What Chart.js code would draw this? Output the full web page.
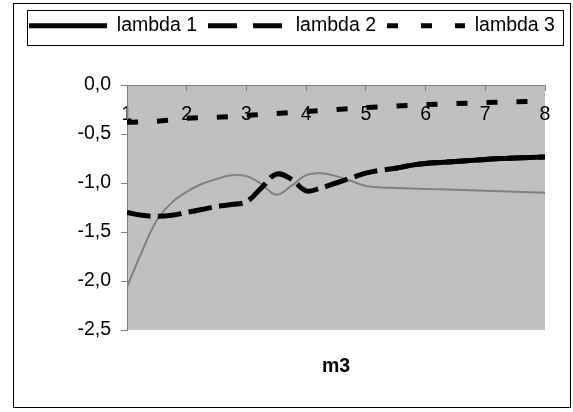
<!DOCTYPE html>
<html>
<head>
<meta charset="utf-8">
<script src="https://cdn.jsdelivr.net/npm/chart.js@4/dist/chart.umd.min.js"></script>
<style>
  html, body { margin: 0; padding: 0; background: #fff; }
  #wrap { width: 573px; height: 412px; }
</style>
</head>
<body>
<div id="wrap"><canvas id="c" width="573" height="412"></canvas></div>
<script>
// ---- data ----
const seriesNames = ['lambda 1', 'lambda 2', 'lambda 3'];
const xAxisTitle = 'm3';
const yTicks = [0, -0.5, -1.0, -1.5, -2.0, -2.5];
const xTicks = [1, 2, 3, 4, 5, 6, 7, 8];

const xQuarter = [1, 1.25, 1.5, 1.75, 2, 2.25, 2.5, 2.75, 3, 3.25, 3.5, 3.75, 4, 4.25, 4.5, 4.75,
                  5, 5.25, 5.5, 5.75, 6, 6.25, 6.5, 6.75, 7, 7.25, 7.5, 7.75, 8];
const grayValues = [-2.06, -1.70, -1.38, -1.20, -1.09, -1.01, -0.96, -0.92, -0.93, -1.01, -1.12, -1.03, -0.92, -0.90, -0.93, -0.98,
                    -1.03, -1.045, -1.05, -1.055, -1.06, -1.065, -1.07, -1.075, -1.08, -1.085, -1.09, -1.095, -1.10];
const lambda2Values = [-1.30, -1.33, -1.34, -1.33, -1.30, -1.27, -1.24, -1.22, -1.19, -1.05, -0.91, -0.96, -1.08, -1.05, -1.00, -0.95,
                       -0.90, -0.87, -0.85, -0.82, -0.80, -0.79, -0.78, -0.77, -0.76, -0.75, -0.745, -0.74, -0.735];
const lambda3X = [1, 1.5, 2, 2.5, 3, 3.5, 4, 4.5, 5, 5.5, 6, 6.5, 7, 7.5, 8];
const lambda3Values = [-0.38, -0.37, -0.34, -0.33, -0.31, -0.29, -0.27, -0.25, -0.23, -0.215, -0.20, -0.19, -0.18, -0.17, -0.165];
const lambda1X = [5.5, 5.75, 6, 6.25, 6.5, 6.75, 7, 7.25, 7.5, 7.75, 8];
const lambda1Values = [-0.85, -0.82, -0.80, -0.79, -0.78, -0.77, -0.76, -0.75, -0.745, -0.74, -0.735];

// ---- styles ----
const FONT = "'Liberation Sans', Arial, sans-serif";
const FS = 19.5;
const plotDash2 = [24, 7];
const plotDash3 = [11, 19];
const legendDashes = [[], [29, 16], [11, 23]];

const pts = (xs, ys) => xs.map((x, i) => ({x: x, y: ys[i]}));

const bgPlugin = {
  id: 'bg',
  beforeUpdate(chart) {
    const lg = chart.legend;
    if (lg && !lg._patched) {
      const orig = lg.fit;
      lg.fit = function () { orig.call(this); this.height = 80; };
      lg._patched = true;
    }
  },
  beforeDraw(chart) {
    const {ctx, chartArea: a} = chart;
    ctx.save();
    ctx.fillStyle = '#ffffff';
    ctx.fillRect(0, 0, chart.width, chart.height);
    ctx.fillStyle = '#C0C0C0';
    ctx.fillRect(a.left, a.top, a.right - a.left, a.bottom - a.top);
    ctx.restore();
  },
  afterDraw(chart) {
    const {ctx} = chart;
    ctx.save();
    ctx.strokeStyle = '#000';
    ctx.lineWidth = 1;
    ctx.setLineDash([]);
    ctx.strokeRect(13.5, 3.5, 557, 404);
    ctx.strokeRect(27.5, 10.5, 536, 35);
    ctx.restore();
  }
};

new Chart(document.getElementById('c'), {
  type: 'line',
  data: {
    datasets: [
      { label: seriesNames[0], data: pts(lambda1X, lambda1Values), borderColor: '#000', borderWidth: 5,
        pointRadius: 0, tension: 0.4, fill: false },
      { label: seriesNames[1], data: pts(xQuarter, lambda2Values), borderColor: '#000', borderWidth: 5,
        borderDash: plotDash2, pointRadius: 0, tension: 0.4, fill: false },
      { label: seriesNames[2], data: pts(lambda3X, lambda3Values), borderColor: '#000', borderWidth: 5,
        borderDash: plotDash3, pointRadius: 0, tension: 0.4, fill: false },
      { label: '', data: pts(xQuarter, grayValues), borderColor: '#808080', borderWidth: 2,
        pointRadius: 0, tension: 0.4, fill: false }
    ]
  },
  options: {
    responsive: false,
    animation: false,
    devicePixelRatio: 1,
    layout: { padding: { left: 13, right: 2, top: 5, bottom: 33.6 } },
    plugins: {
      tooltip: { enabled: false },
      legend: {
        display: true,
        position: 'top',
        labels: {
          usePointStyle: true,
          pointStyleWidth: 78,
          boxHeight: 5,
          padding: 11,
          color: '#000',
          font: { family: FONT, size: FS },
          generateLabels: () => seriesNames.map((name, i) => ({
            text: name, datasetIndex: i, pointStyle: 'line', strokeStyle: '#000', fillStyle: '#000',
            lineWidth: 5, lineDash: legendDashes[i], lineCap: 'butt', hidden: false, fontColor: '#000'
          }))
        }
      },
      title: {
        display: true,
        text: xAxisTitle,
        position: 'bottom',
        fullSize: false,
        color: '#000',
        font: { family: FONT, size: FS, weight: 'bold' },
        padding: { top: 25, bottom: 0 }
      }
    },
    scales: {
      x: {
        type: 'linear',
        position: { y: 0 },
        min: 1, max: 8,
        afterBuildTicks(s) { s.ticks = xTicks.map(v => ({value: v})); },
        ticks: { color: '#000', font: { family: FONT, size: FS }, padding: 13, autoSkip: false, maxRotation: 0,
                 callback: v => String(v) },
        grid: { drawOnChartArea: false, drawTicks: true, tickLength: 5, color: '#808080' },
        border: { display: true, color: '#808080', width: 1 }
      },
      y: {
        type: 'linear',
        position: 'left',
        min: -2.5, max: 0,
        afterBuildTicks(s) { s.ticks = yTicks.map(v => ({value: v})); },
        afterFit(s) { s.width = 114; },
        ticks: { color: '#000', font: { family: FONT, size: FS }, padding: 10,
                 callback: v => v.toFixed(1).replace('.', ',') },
        grid: { drawOnChartArea: false, drawTicks: true, tickLength: 6, color: '#808080' },
        border: { display: true, color: '#808080', width: 1 }
      },
      yR: {
        type: 'linear',
        position: 'right',
        display: true,
        ticks: { display: false },
        grid: { display: false, drawTicks: false },
        border: { display: false },
        afterFit(s) { s.width = 26; }
      }
    }
  },
  plugins: [bgPlugin]
});
</script>
</body>
</html>
